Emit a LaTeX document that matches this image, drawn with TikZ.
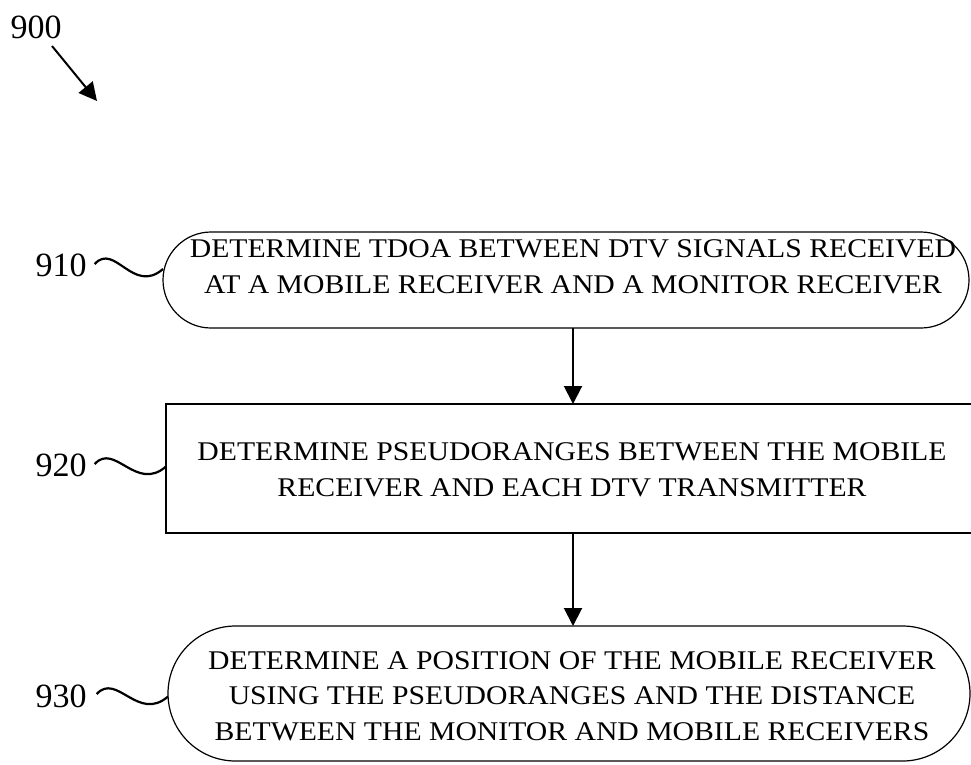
\documentclass[tikz,border=0pt]{standalone}
\usepackage{fontspec}
\setmainfont{Liberation Serif}
\newfontfamily\boxfont[FakeStretch=1.1]{Liberation Serif}
\usetikzlibrary{arrows.meta,shapes.misc}
\tikzset{
  boxline/.style={draw=black, line width=1.2pt},
  rr/.style={boxline, rounded rectangle, rounded rectangle arc length=180, inner sep=0pt, outer sep=0pt},
  rect/.style={boxline, rectangle, inner sep=0pt, outer sep=0pt},
  txt/.style={align=center, font=\boxfont\fontsize{27}{35.5}\selectfont, inner sep=0pt},
  lbl/.style={font=\fontsize{34}{38}\selectfont, inner sep=0pt},
  arr/.style={line width=2pt, -{Triangle[length=18pt,width=18pt]}},
  sq/.style={line width=2.2pt}
}
\begin{document}
\begin{tikzpicture}[x=1pt,y=-1pt]
\useasboundingbox (0,0) rectangle (971,764);
% boxes
\node[rr, minimum width=806pt, minimum height=96pt] (b910) at (566,280) {};
\node[rect, minimum width=808pt, minimum height=129pt] (b920) at (570,468.5) {};
\node[rr, minimum width=802pt, minimum height=135pt] (b930) at (569,693.5) {};
% texts
\node[txt] (t910) at (573,267) {DETERMINE TDOA BETWEEN DTV SIGNALS RECEIVED\\AT A MOBILE RECEIVER AND A MONITOR RECEIVER};
\node[txt] (t920) at (572,470) {DETERMINE PSEUDORANGES BETWEEN THE MOBILE\\RECEIVER AND EACH DTV TRANSMITTER};
\node[txt] (t930) at (572,696) {DETERMINE A POSITION OF THE MOBILE RECEIVER\\USING THE PSEUDORANGES AND THE DISTANCE\\BETWEEN THE MONITOR AND MOBILE RECEIVERS};
% labels
\node[lbl] (l900) at (36,27) {900};
\node[lbl] (l910) at (61,265) {910};
\node[lbl] (l920) at (61,465) {920};
\node[lbl] (l930) at (61,696) {930};
% 900 arrow
\coordinate (a900s) at (52,46);
\coordinate (a900e) at (97,101);
\draw[arr] (a900s) -- (a900e);
% squiggles
\draw[sq] ([xshift=8pt,yshift=1pt]l910.east) .. controls +(20,-22) and +(-30,26) .. ([yshift=11pt]b910.west);
\draw[sq] ([xshift=8pt,yshift=1pt]l920.east) .. controls +(20,-22) and +(-30,26) .. ([yshift=2pt]b920.west);
\draw[sq] ([xshift=10pt,yshift=2pt]l930.east) .. controls +(20,-22) and +(-30,26) .. ([yshift=-3pt]b930.west);
% flow arrows
\draw[arr] (b910.south -| t910) -- (b920.north -| t910);
\draw[arr] (b920.south -| t910) -- (b930.north -| t910);
\end{tikzpicture}
\end{document}
